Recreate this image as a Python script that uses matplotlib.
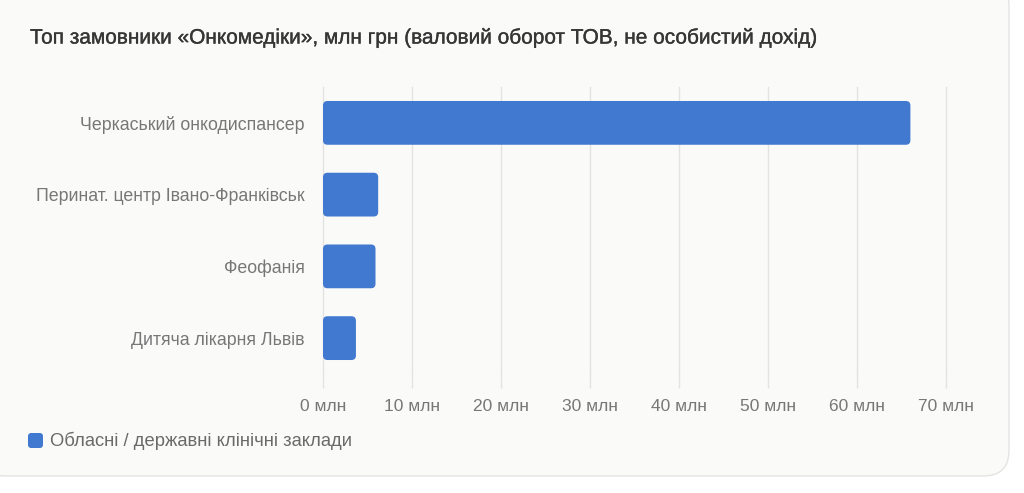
import matplotlib
matplotlib.use("Agg")
import matplotlib.pyplot as plt
import matplotlib.patheffects as pe
from matplotlib.patches import FancyBboxPatch

categories = ["Черкаський онкодиспансер", "Перинат. центр Івано-Франківськ", "Феофанія", "Дитяча лікарня Львів"]
values = [66.0, 6.2, 5.9, 3.7]
xticks = [0, 10, 20, 30, 40, 50, 60, 70]
xtick_labels = [f"{t} млн" for t in xticks]
title = "Топ замовники «Онкомедіки», млн грн (валовий оборот ТОВ, не особистий дохід)"
legend_label = "Обласні / державні клінічні заклади"

W, H = 1024, 493
BAR = "#4178d0"
FONT = ["Liberation Sans", "DejaVu Sans"]
plt.rcParams["font.family"] = FONT

fig = plt.figure(figsize=(W / 100, H / 100), dpi=100, facecolor="white")

# card background
card = FancyBboxPatch((-20 / W, 17 / H), (1009 + 20) / W, (H + 20 - 17) / H,
                      boxstyle="round,pad=0,rounding_size=0.025",
                      transform=fig.transFigure, facecolor="#fafaf9",
                      edgecolor="#e4e4e2", linewidth=1.0, zorder=-10,
                      mutation_aspect=W / H)
fig.patches.append(card)

ax_l, ax_r, ax_t, ax_b = 323, 946, 87, 374
ax = fig.add_axes([ax_l / W, 1 - ax_b / H, (ax_r - ax_l) / W, (ax_b - ax_t) / H])
ax.set_facecolor("none")
ax.set_zorder(1)

ypos = list(range(len(categories)))
bars = ax.barh(ypos, values, height=0.61, color=BAR)
ax.set_xlim(0, 70)
ax.set_ylim(len(categories) - 0.5, -0.5)

px_x = (ax_r - ax_l) / 70.0
px_y = (ax_b - ax_t) / len(categories)
r_px = 4.5
for b in bars:
    x0, y0, w, h = b.get_x(), b.get_y(), b.get_width(), b.get_height()
    b.set_visible(False)
    p = FancyBboxPatch((x0, y0), w, h,
                       boxstyle=f"round,pad=0,rounding_size={r_px / px_x}",
                       mutation_aspect=(px_x / px_y),
                       facecolor=BAR, edgecolor="none", zorder=3)
    ax.add_patch(p)

ax.set_xticks(xticks)
ax.set_xticklabels(xtick_labels)
ax.set_yticks(ypos)
ax.set_yticklabels(categories)
ax.grid(axis="x", color="#e3e3e3", linewidth=1.0, zorder=0)
ax.set_axisbelow(True)
for gl in ax.get_xgridlines():
    gl.set_clip_on(False)
for s in ax.spines.values():
    s.set_visible(False)
ax.tick_params(axis="x", length=10, color="#e3e3e3", width=1.0, pad=8,
               labelsize=12.5, labelcolor="#777777")
ax.tick_params(axis="y", length=0, pad=13, labelsize=12.8, labelcolor="#777777")

fig.text(30 / W, 1 - 38 / H, title, fontsize=15, color="#363636",
         ha="left", va="center",
         path_effects=[pe.withStroke(linewidth=0.25, foreground="#363636")])

# legend
sq = FancyBboxPatch((28 / W, 1 - 448 / H), 15 / W, 15 / H,
                    boxstyle="round,pad=0,rounding_size=0.003",
                    mutation_aspect=W / H,
                    transform=fig.transFigure, facecolor=BAR, edgecolor="none")
fig.patches.append(sq)
fig.text(50 / W, 1 - 441 / H, legend_label, fontsize=13.2, color="#6a6a6a",
         ha="left", va="center")

fig.savefig("out.png", dpi=100, facecolor="white")
